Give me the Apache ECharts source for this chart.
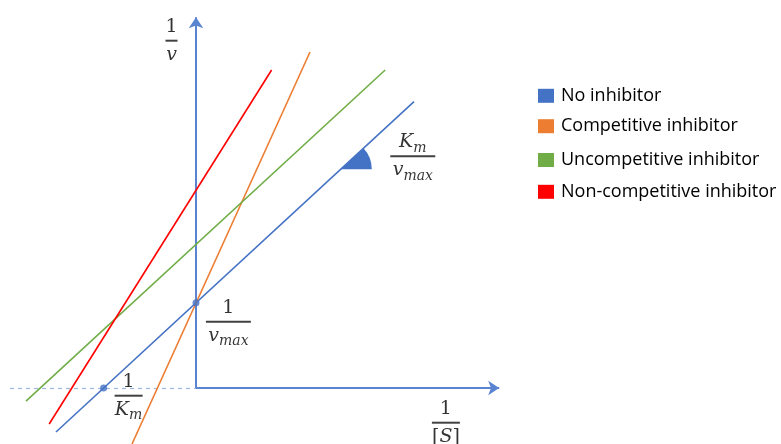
<!DOCTYPE html>
<html><head><meta charset="utf-8">
<script src="https://cdn.jsdelivr.net/npm/echarts@6/dist/echarts.min.js"></script>
<style>html,body{margin:0;padding:0;background:#fff}#c{width:781px;height:444px}</style>
</head><body><div id="c"></div>
<script>
// ---- data ----
const seriesNames = ['No inhibitor', 'Competitive inhibitor', 'Uncompetitive inhibitor', 'Non-competitive inhibitor'];
const seriesColors = ['#4472C4', '#ED7D31', '#70AD47', '#FF0000'];
const noInhibitor = [[-3.5, -1.1], [5.45, 7.16]];
const competitive = [[-1.6, -1.4], [2.85, 8.4]];
const uncompetitive = [[-4.25, -0.33], [4.73, 7.95]];
const nonCompetitive = [[-3.67, -0.9], [1.89, 7.95]];
const intercepts = [[0, 2.13], [-2.31, 0]];
const slopeMarker = [[3.62, 5.47]];
const xAxisLine = [[0, 0], [7.58, 0]];
const yAxisLine = [[0, 0], [0, 9.27]];
const xAxisDashed = [[-4.65, 0], [0, 0]];
const xRange = [-4.8, 8];
const yRange = [-1.4, 9.4];
const labelFormats = [
  '{n|1}\n{h1|}\n{v|v}',
  '{n|1}\n{h2|}\n{n|[}{v|S}{n|]}',
  '{n|1}\n{h2|}\n{v|K}{s|m}',
  '{n|1}\n{h3|}\n{v|v}{s|max}',
  '{v|K}{s|m}\n{h3|}\n{v|v}{s|max}'
];

// ---- chart ----
const lineData = [noInhibitor, competitive, uncompetitive, nonCompetitive];
const labelAnchors = [yAxisLine[1], xAxisLine[1], intercepts[1], intercepts[0], slopeMarker[0]];
const labelOffsets = [[-24.5, 23.5], [-53.3, 34.7], [25, 7.7], [32.4, 19], [72, -13]];
const legendCenters = [93.8, 124.2, 158, 189.8];
const axisColor = '#5b84d0';
const serif = "'DejaVu Serif', serif";
const rich = {
  n: {fontFamily: serif, fontSize: 19, lineHeight: 26, color: '#000'},
  v: {fontFamily: serif, fontStyle: 'italic', fontSize: 19, lineHeight: 26, color: '#000'},
  s: {fontFamily: serif, fontStyle: 'italic', fontSize: 14, lineHeight: 17, color: '#000', verticalAlign: 'bottom'},
  h1: {width: 12, height: 2, backgroundColor: '#111'},
  h2: {width: 28, height: 2, backgroundColor: '#111'},
  h3: {width: 45, height: 2, backgroundColor: '#111'}
};

const chart = echarts.init(document.getElementById('c'), null, {renderer: 'canvas'});
const series = [];
series.push({
  type: 'lines', coordinateSystem: 'cartesian2d', silent: true, z: 1,
  data: [{coords: xAxisDashed}],
  lineStyle: {color: '#9db5e3', width: 1.2, type: [4, 4], opacity: 1},
  symbol: 'none'
});
series.push({
  type: 'lines', coordinateSystem: 'cartesian2d', silent: true, z: 2,
  data: [{coords: xAxisLine}, {coords: yAxisLine}],
  lineStyle: {color: axisColor, width: 2, opacity: 1},
  symbol: ['none', 'arrow'], symbolSize: 11
});
lineData.forEach((d, i) => {
  series.push({
    name: seriesNames[i], type: 'line', data: d, color: seriesColors[i],
    symbol: 'none', z: 3,
    lineStyle: {color: seriesColors[i], width: 1.6},
    itemStyle: {color: seriesColors[i]}
  });
});
series.push({
  type: 'custom', silent: true, z: 4,
  data: slopeMarker,
  renderItem: function (params, api) {
    const p = api.coord([api.value(0), api.value(1)]);
    const q = api.coord(noInhibitor[1]);
    const ang = Math.atan2(q[1] - p[1], q[0] - p[0]);
    return {type: 'sector', shape: {cx: p[0], cy: p[1], r0: 0, r: 31, startAngle: ang, endAngle: 0, clockwise: true},
            style: {fill: '#4472C4'}};
  }
});
series.push({
  type: 'scatter', silent: true, z: 5, data: intercepts, symbolSize: 7,
  itemStyle: {color: '#4472C4'}
});
series.push({
  type: 'scatter', silent: true, z: 6, symbolSize: 0,
  data: labelAnchors.map((a, i) => ({
    value: a,
    label: {show: true, position: 'inside', offset: labelOffsets[i], formatter: labelFormats[i], rich: rich}
  }))
});

chart.setOption({
  animation: false,
  backgroundColor: '#fff',
  grid: {left: 4, top: 12, width: 512, height: 432},
  xAxis: {type: 'value', min: xRange[0], max: xRange[1], show: false},
  yAxis: {type: 'value', min: yRange[0], max: yRange[1], show: false},
  legend: seriesNames.map((n, i) => ({
    data: [{name: n, icon: 'rect'}],
    left: 533, top: legendCenters[i] - 12,
    itemWidth: 16, itemHeight: 14, selectedMode: false,
    textStyle: {fontFamily: "'Open Sans'", fontSize: 18, color: '#000', padding: [0, 0, 0, 2]}
  })),
  series: series
});
</script></body></html>
